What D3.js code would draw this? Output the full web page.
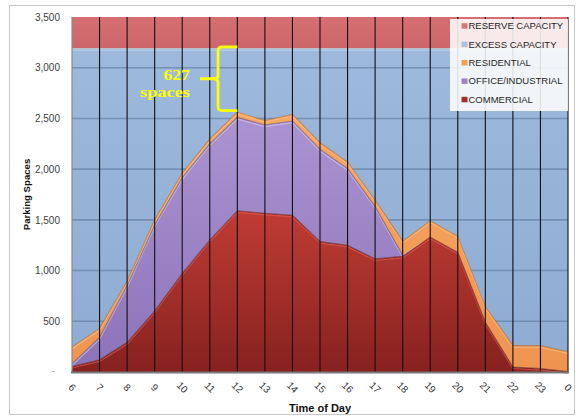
<!DOCTYPE html>
<html>
<head>
<meta charset="utf-8">
<script src="https://cdn.jsdelivr.net/npm/d3@7/dist/d3.min.js"></script>
<style>
  html, body { margin: 0; padding: 0; background: #fff; }
  svg { display: block; font-family: "Liberation Sans", Arial, sans-serif; }
</style>
</head>
<body>
<svg id="chart" width="576" height="418"></svg>
<script>
// Hourly parking demand by land use (spaces)
const hours = ["6","7","8","9","10","11","12","13","14","15","16","17","18","19","20","21","22","23","0"];
const commercial  = [55, 120, 290, 600, 970, 1300, 1590, 1565, 1545, 1285, 1250, 1115, 1140, 1330, 1180, 490, 50, 35, 5];
const office      = [25, 220, 560, 850, 945, 950, 920, 870, 930, 910, 755, 515, 10, 0, 0, 0, 0, 0, 0];
const residential = [165, 90, 45, 50, 45, 45, 53, 45, 65, 65, 65, 65, 140, 160, 158, 155, 210, 225, 195];

// Supply
const effectiveCapacity = 3190;   // spaces available before the reserve
const reserveCapacity = 310;      // held back on top of the effective supply

const yTicks = [0, 500, 1000, 1500, 2000, 2500, 3000, 3500];

const seriesKeys   = ["commercial", "office", "residential", "excess", "reserve"];
const legendLabels = ["RESERVE CAPACITY", "EXCESS CAPACITY", "RESIDENTIAL", "OFFICE/INDUSTRIAL", "COMMERCIAL"];
const legendKeys   = ["reserve", "excess", "residential", "office", "commercial"];

const rows = hours.map((h, i) => {
  const used = commercial[i] + office[i] + residential[i];
  return {
    hour: h,
    commercial: commercial[i],
    office: office[i],
    residential: residential[i],
    excess: effectiveCapacity - used,
    reserve: reserveCapacity
  };
});

const svg = d3.select("#chart");
const margin = { left: 72, right: 8, top: 17, bottom: 46 };
const W = 576, H = 418;

const x = d3.scalePoint().domain(hours).range([margin.left, W - margin.right]).padding(0);
const y = d3.scaleLinear().domain([0, 3500]).range([H - margin.bottom, margin.top]);

const stack = d3.stack().keys(seriesKeys);
const layers = stack(rows);
const byKey = {};
layers.forEach(l => byKey[l.key] = l);

// Gradients give the bands a soft, lit look
const defs = svg.append("defs");
const grads = {
  commercial:  [["0%", "#c23d35"], ["100%", "#86211f"]],
  office:      [["0%", "#ac94d2"], ["100%", "#8c73b8"]],
  residential: [["0%", "#f7a862"], ["100%", "#ee9450"]],
  excess:      [["0%", "#9db9dc"], ["100%", "#8eabd2"]],
  reserve:     [["0%", "#d56f72"], ["100%", "#cd666a"]]
};
const gradRange = {
  commercial:  [y(1650), y(0)],
  office:      [y(2550), y(0)],
  residential: [y(2600), y(0)],
  excess:      [y(3190), y(0)],
  reserve:     [y(3500), y(3190)]
};
Object.keys(grads).forEach(k => {
  const g = defs.append("linearGradient")
    .attr("id", "g-" + k)
    .attr("gradientUnits", "userSpaceOnUse")
    .attr("x1", 0).attr("x2", 0)
    .attr("y1", gradRange[k][0]).attr("y2", gradRange[k][1]);
  grads[k].forEach(s => g.append("stop").attr("offset", s[0]).attr("stop-color", s[1]));
});
const swatchColor = {
  reserve: "#d6777a", excess: "#a9c1df", residential: "#f0a058",
  office: "#9d82c4", commercial: "#a62c2a"
};
const edgeDark = {
  commercial: "#5e1a1a", office: "#5e4c78", residential: "#a8642e",
  excess: "#b9c7c6", reserve: "#b05558"
};
const edgeLight = {
  commercial: "#dc5a4e", office: "#d3c4ea", residential: "#fbc08a",
  excess: "#c9d8e9", reserve: "#e08a8d"
};

// Outer chart frame
svg.append("rect")
  .attr("x", 9.5).attr("y", 5.5).attr("width", 565).attr("height", 409)
  .attr("fill", "#fff").attr("stroke", "#c8c8c8").attr("stroke-width", 1);

const area = d3.area()
  .x((d, i) => x(hours[i]))
  .y0(d => y(d[0]))
  .y1(d => y(d[1]));

const plot = svg.append("g");

// Supply bands first
["reserve", "excess"].forEach(k => {
  plot.append("path").datum(byKey[k]).attr("d", area).attr("fill", "url(#g-" + k + ")");
});

// Horizontal gridlines sit on the supply band only
plot.append("g").selectAll("line")
  .data(yTicks.filter(t => t > 0 && t < 3500))
  .join("line")
  .attr("x1", x(hours[0])).attr("x2", x(hours[hours.length - 1]))
  .attr("y1", d => y(d)).attr("y2", d => y(d))
  .attr("stroke", "#6a84a8").attr("stroke-width", 1.6).attr("opacity", 0.75);

// Demand bands
["commercial", "office", "residential"].forEach(k => {
  plot.append("path").datum(byKey[k]).attr("d", area).attr("fill", "url(#g-" + k + ")");
});

// Bevel edges along the top of each band, only where the band has height
const hasHeight = d => d[1] - d[0] > 0;
const topLine = d3.line().defined(hasHeight).x((d, i) => x(hours[i])).y(d => y(d[1]));
const topLineShift = d3.line().defined(hasHeight).x((d, i) => x(hours[i])).y(d => y(d[1]) + 1.6);
["commercial", "office", "residential", "excess"].forEach(k => {
  const data = byKey[k];
  plot.append("path").datum(data).attr("d", topLineShift)
    .attr("fill", "none").attr("stroke", edgeLight[k]).attr("stroke-width", 1.2).attr("opacity", 0.7);
  plot.append("path").datum(data).attr("d", topLine)
    .attr("fill", "none").attr("stroke", edgeDark[k]).attr("stroke-width", 1.1).attr("opacity", 0.6);
});

// Hourly dividers
plot.append("g").selectAll("line")
  .data(hours.slice(1))
  .join("line")
  .attr("x1", d => x(d)).attr("x2", d => x(d))
  .attr("y1", y(3500)).attr("y2", y(0))
  .attr("stroke", "#111").attr("stroke-width", 1.1);

// Axis lines
svg.append("line")
  .attr("x1", x(hours[0])).attr("x2", x(hours[0]))
  .attr("y1", y(3500)).attr("y2", y(0))
  .attr("stroke", "#8a8a8a").attr("stroke-width", 1.2);
svg.append("line")
  .attr("x1", x(hours[0]) - 1).attr("x2", x(hours[hours.length - 1]) + 1)
  .attr("y1", y(0) + 0.5).attr("y2", y(0) + 0.5)
  .attr("stroke", "#7a7a7a").attr("stroke-width", 2);

// Y axis
const yAxis = d3.axisLeft(y)
  .tickValues(yTicks)
  .tickSize(0)
  .tickPadding(12)
  .tickFormat(d => d === 0 ? "-" : d3.format(",")(d));
const yg = svg.append("g").attr("transform", `translate(${x(hours[0])},0)`).call(yAxis);
yg.select(".domain").remove();
yg.selectAll("text")
  .attr("font-size", 10).attr("fill", "#404040")
  .attr("font-family", "'Liberation Sans', Arial, sans-serif");
yg.selectAll(".tick").filter(d => d === 0).select("text")
  .attr("x", -17).attr("dy", "0.15em").attr("fill", "#999");

// X axis
const xAxis = d3.axisBottom(x).tickSize(0).tickPadding(0);
const xg = svg.append("g").attr("transform", `translate(0,${y(0)})`).call(xAxis);
xg.select(".domain").remove();
xg.selectAll("text")
  .attr("font-size", 10).attr("fill", "#333")
  .attr("font-family", "'Liberation Sans', Arial, sans-serif")
  .attr("text-anchor", "middle")
  .attr("dy", null)
  .attr("y", null)
  .attr("transform", "translate(-1,16) rotate(45)")
  .attr("dominant-baseline", "middle");

// Axis titles
svg.append("text")
  .attr("transform", `translate(30,${(y(0) + y(3500)) / 2}) rotate(-90)`)
  .attr("text-anchor", "middle")
  .attr("font-size", 9.6).attr("font-weight", "bold").attr("fill", "#111")
  .text("Parking Spaces");
svg.append("text")
  .attr("x", (x(hours[0]) + x(hours[hours.length - 1])) / 2)
  .attr("y", 412)
  .attr("text-anchor", "middle")
  .attr("font-size", 11).attr("font-weight", "bold").attr("fill", "#111")
  .text("Time of Day");

// Legend
const lg = svg.append("g");
lg.append("rect")
  .attr("x", 450).attr("y", 19).attr("width", 118).attr("height", 92)
  .attr("fill", "#fff").attr("fill-opacity", 0.86);
legendKeys.forEach((k, i) => {
  const cy = 25.7 + i * 18.4;
  lg.append("rect")
    .attr("x", 461.5).attr("y", cy - 2.5).attr("width", 6).attr("height", 5.5)
    .attr("fill", swatchColor[k]);
  lg.append("text")
    .attr("x", 468.5).attr("y", cy)
    .attr("dy", "0.36em")
    .attr("font-size", 9.5).attr("fill", "#1f1f1f")
    .text(legendLabels[i]);
});

// Spare spaces at the busiest hour
const totals = rows.map(r => r.commercial + r.office + r.residential);
const peakTotal = d3.max(totals);
const spare = effectiveCapacity - peakTotal;
const step = x.step();
const peakHour = hours[totals.indexOf(peakTotal)];
const bx = x(peakHour) - 0.7 * step;
const bRight = x(peakHour);
const yTop = y(effectiveCapacity) - 1.5;
const yBot = y(peakTotal) - 1.5;
const yMid = (yTop + yBot) / 2;
const r = 4;
const brace = d3.path();
brace.moveTo(bRight, yTop);
brace.lineTo(bx + r, yTop);
brace.quadraticCurveTo(bx, yTop, bx, yTop + r);
brace.lineTo(bx, yMid - r);
brace.quadraticCurveTo(bx, yMid, bx - r, yMid);
brace.moveTo(bx, yMid - r);
brace.quadraticCurveTo(bx, yMid, bx + 0.01, yMid);
brace.moveTo(bx - r, yMid);
brace.lineTo(bx - 18, yMid);
brace.moveTo(bx - r, yMid);
brace.quadraticCurveTo(bx, yMid, bx, yMid + r);
brace.lineTo(bx, yBot - r);
brace.quadraticCurveTo(bx, yBot, bx + r, yBot);
brace.lineTo(bRight, yBot);
svg.append("path")
  .attr("d", brace.toString())
  .attr("fill", "none").attr("stroke", "#ffff00").attr("stroke-width", 2.8)
  .attr("stroke-linecap", "butt").attr("stroke-linejoin", "round");

const annot = svg.append("g")
  .attr("font-family", "'Liberation Serif', 'Times New Roman', serif")
  .attr("font-weight", "bold").attr("fill", "#ffff00").attr("font-size", 15.5)
  .attr("text-anchor", "middle");
annot.append("text").attr("x", 176.7).attr("y", 80)
  .attr("textLength", 26.5).attr("lengthAdjust", "spacingAndGlyphs")
  .text(d3.format("d")(spare));
annot.append("text").attr("x", 165).attr("y", 97.3)
  .attr("textLength", 50).attr("lengthAdjust", "spacingAndGlyphs")
  .text("spaces");
</script>
</body>
</html>
